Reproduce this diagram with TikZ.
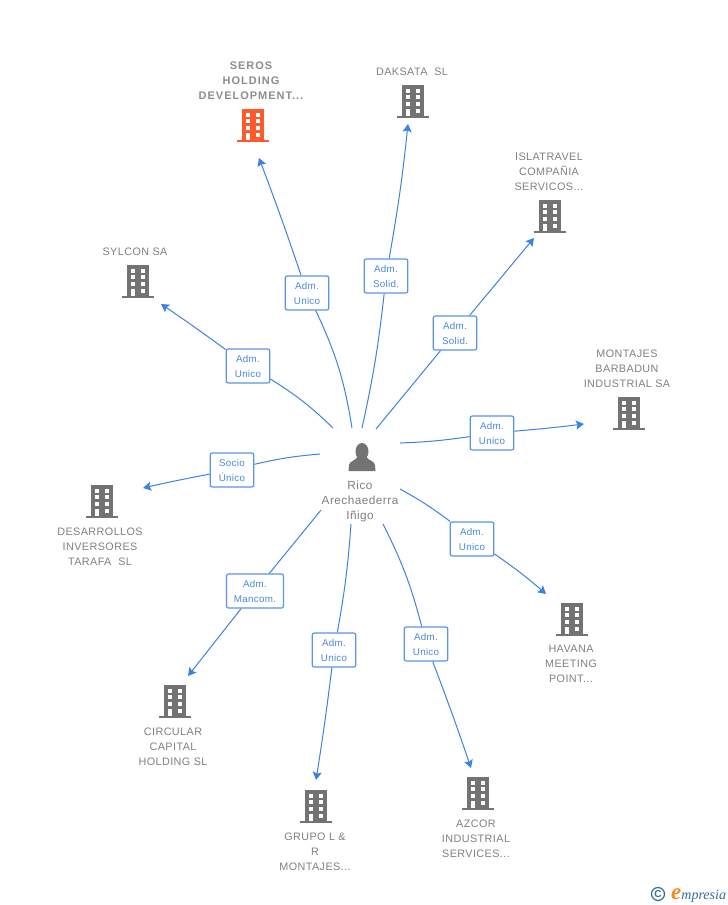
\documentclass[tikz,border=0pt]{standalone}
\usepackage{fontspec}
\usetikzlibrary{arrows.meta}
\setmainfont{Liberation Sans}
\newfontfamily\lblfont[LetterSpace=4]{Liberation Sans}
\newfontfamily\boxfont[LetterSpace=3]{Liberation Sans}
\newfontfamily\logofont{Liberation Serif}
\definecolor{lnkblue}{HTML}{3B82E4}
\definecolor{boxblue}{HTML}{4A88E0}
\definecolor{boxline}{HTML}{5A94E6}
\definecolor{txtgray}{HTML}{808080}
\definecolor{icongray}{HTML}{737373}
\definecolor{mainorange}{HTML}{FF5A2B}
\definecolor{logoteal}{HTML}{2F6F8F}
\definecolor{logoorange}{HTML}{F28A1E}
\tikzset{
  lnk/.style={draw=lnkblue,line width=1pt},
  rolebox/.style={draw=boxline,line width=1.2pt,fill=white,rounded corners=2pt,minimum width=43.5pt,minimum height=34pt,inner ysep=0pt,inner xsep=7.5pt,align=center,text=boxblue,font=\boxfont\fontsize{9.8}{15}\selectfont,execute at begin node={\rule{0pt}{9pt}}},
  complabel/.style={align=center,text=txtgray,inner sep=0pt,yshift=-1pt,font=\lblfont\fontsize{10.8}{15}\selectfont},
  pics/bldg/.style={code={
    \fill[#1] (-11,-17) rectangle (11,14);
    \fill[#1] (-16,14) rectangle (16,16.3);
    \foreach \wy in {-13.3,-6.7,0.3}{
      \fill[white] (-7.3,\wy) rectangle +(4.3,4);
      \fill[white] (2.7,\wy) rectangle +(4.3,4);
    }
    \fill[white] (2.7,6.7) rectangle +(4.3,4);
    \fill[white] (-7.3,6.7) rectangle (-3,14);
  }}
}
\begin{document}
\begin{tikzpicture}[x=1pt,y=-1pt]
\useasboundingbox[fill=white] (0,0) rectangle (728,905);

%empresas
\foreach \nm/\ix/\iy/\lx/\ly/\txt in {
  daksata/413/102/412/71/{DAKSATA\ \ SL},
  islatravel/550/217/549/171/{ISLATRAVEL\\COMPA\~NIA\\SERVICOS...},
  montajes/629/414/627/368/{MONTAJES\\BARBADUN\\INDUSTRIAL SA},
  sylcon/138/282/135/251/{SYLCON SA},
  desarrollos/102/502/100/546/{DESARROLLOS\\INVERSORES\\TARAFA\ \ SL},
  havana/572/620/571/663/{HAVANA\\MEETING\\POINT...},
  circular/175/702/173/746/{CIRCULAR\\CAPITAL\\HOLDING SL},
  grupo/316/807/315/851/{GRUPO L \&\\R\\MONTAJES...},
  azcor/478/794/476/838/{AZCOR\\INDUSTRIAL\\SERVICES...}}{
\pic at (\ix,\iy) {bldg=icongray};
\node[complabel] (\nm) at (\lx,\ly) {\txt};
}
\pic at (253,126) {bldg=mainorange};
\node[complabel,text=txtgray!90,font=\lblfont\bfseries\addfontfeature{LetterSpace=9}\fontsize{11}{15}\selectfont] (seros) at (251,80) {SEROS\\HOLDING\\DEVELOPMENT...};

%persona
\fill[icongray] (362,451.5) ellipse (6.5 and 8.5);
\fill[icongray] (348.5,471) -- (349,465) .. controls (350,460.5) and (355,461) .. (357.5,457) -- (366.5,457) .. controls (369,461) and (374,460.5) .. (375,465) -- (375.5,471) -- cycle;
\node[align=center,text=txtgray,inner sep=0pt,yshift=-1pt,font=\lblfont\fontsize{11.8}{15}\selectfont] (rico) at (360,500) {Rico\\Arechaederra\\I\~nigo};

%enlaces
\foreach \nm/\ax/\ay/\bx/\by/\cx/\cy/\ang/\angb/\txt in {
  seros/352/428/307/293/259/158/8/1/{Adm.\\Unico},
  daksata/362/428/386/276/408/124/3/2/{Adm.\\Solid.},
  islatravel/376/429/455/333/534/238/0/0/{Adm.\\Solid.},
  montajes/400/443/492/433/584/424/3/1/{Adm.\\Unico},
  havana/400/489/472/539/546/594/-4/-3/{Adm.\\Unico},
  azcor/383/524/426/644/471/768/-6/-1/{Adm.\\Unico},
  grupo/351/524/334/650/316/780/-3/-1/{Adm.\\Unico},
  circular/321/510/255/591/188/676/0/0/{Adm.\\Mancom.},
  desarrollos/320/454/232/470/143/488/4/1/{Socio\\\'Unico},
  sylcon/333/428/248/366/161/304/6/1/{Adm.\\Unico}}{
\coordinate (\nm-a) at (\ax,\ay);
\coordinate (\nm-c) at (\cx,\cy);
\node[rolebox] (\nm-box) at (\bx,\by) {\txt};
\draw[lnk] (\nm-a) to[bend right=\ang] (\nm-box);
\draw[lnk,-{Stealth[length=8pt,width=9pt,inset=1.5pt]}] (\nm-box) to[bend right=\angb] (\nm-c);
}

%logo
\node[draw=logoteal,circle,line width=1.2pt,minimum size=13pt,inner sep=0pt,text=logoteal,font=\bfseries\fontsize{10}{10}\selectfont] (copy) at (658,894) {C};
\node[inner sep=0pt,anchor=base west,text=logoteal,font=\logofont\itshape\fontsize{14}{14}\selectfont] (logo) at (671,899) {{\color{logoorange}\bfseries\fontsize{23}{23}\selectfont e}mpresia};
\end{tikzpicture}
\end{document}
